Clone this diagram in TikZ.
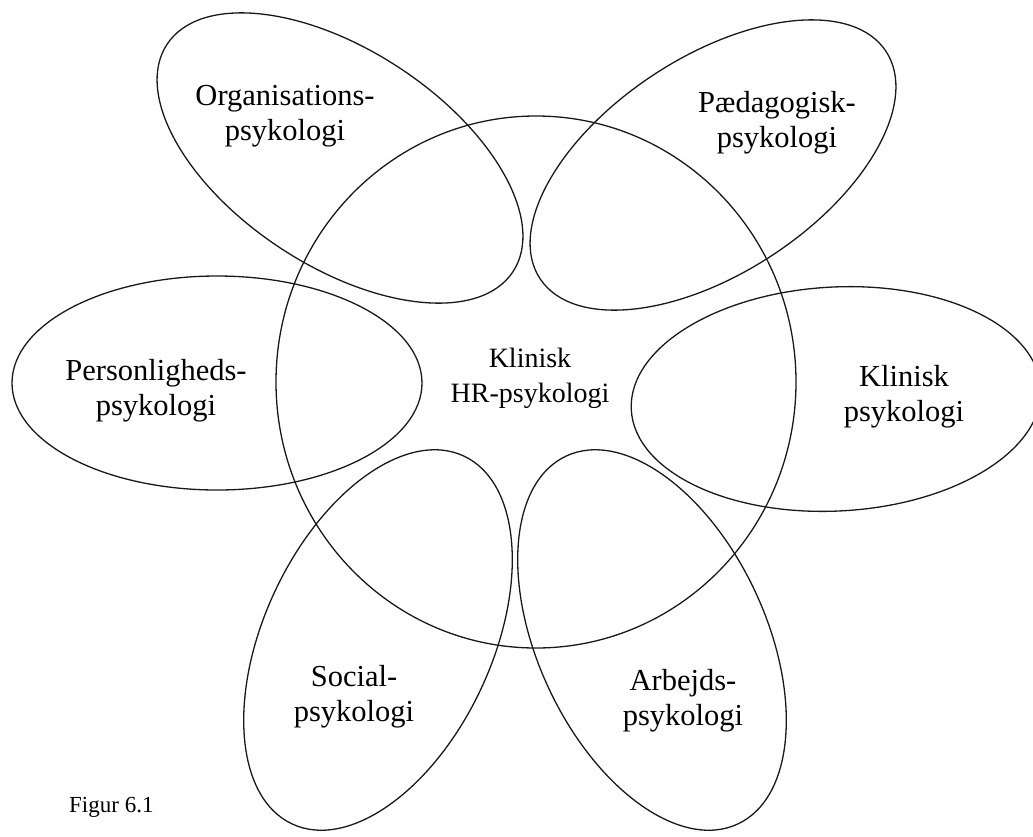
\documentclass[tikz,border=0pt]{standalone}
\usepackage{fontspec}
\setmainfont{Liberation Serif}
\begin{document}
\begin{tikzpicture}[x=1pt,y=-1pt,
  outline/.style={draw=black!90, line width=1.3pt},
  lbl/.style={align=center, inner sep=0pt, font=\fontsize{30.5}{35}\selectfont},
  hublbl/.style={align=center, inner sep=0pt, font=\fontsize{28}{35}\selectfont},
  caption/.style={inner sep=0pt, anchor=base west, font=\fontsize{23}{27}\selectfont}]
\useasboundingbox (0,0) rectangle (1033,836);
\clip (0,0) rectangle (1033,836);

% central field
\draw[outline] (536,382) ellipse [x radius=260, y radius=266];

% surrounding petals
\draw[outline, rotate around={-33.3:(340,158)}] (340,158) ellipse [x radius=207, y radius=108];
\draw[outline, rotate around={33.3:(713,165)}] (713,165) ellipse [x radius=207, y radius=108];
\draw[outline] (217,383) ellipse [x radius=205, y radius=107];
\draw[outline, rotate around={3:(836,399)}] (836,399) ellipse [x radius=205, y radius=112];
\draw[outline, rotate around={65:(378,640)}] (378,640) ellipse [x radius=203, y radius=114];
\draw[outline, rotate around={115:(652,640)}] (652,640) ellipse [x radius=203, y radius=114];

% labels
\node[hublbl] (hub) at (530,378) {Klinisk\\HR-psykologi};
\node[lbl] (org) at (285,116) {Organisations-\\psykologi};
\node[lbl] (paed) at (777,123) {Pædagogisk-\\psykologi};
\node[lbl] (pers) at (156,391) {Personligheds-\\psykologi};
\node[lbl] (klin) at (904,397) {Klinisk\\psykologi};
\node[lbl] (soc) at (354,697) {Social-\\psykologi};
\node[lbl] (arb) at (683,701) {Arbejds-\\psykologi};
\node[caption] (fig) at (69,812) {Figur 6.1};
\end{tikzpicture}
\end{document}
